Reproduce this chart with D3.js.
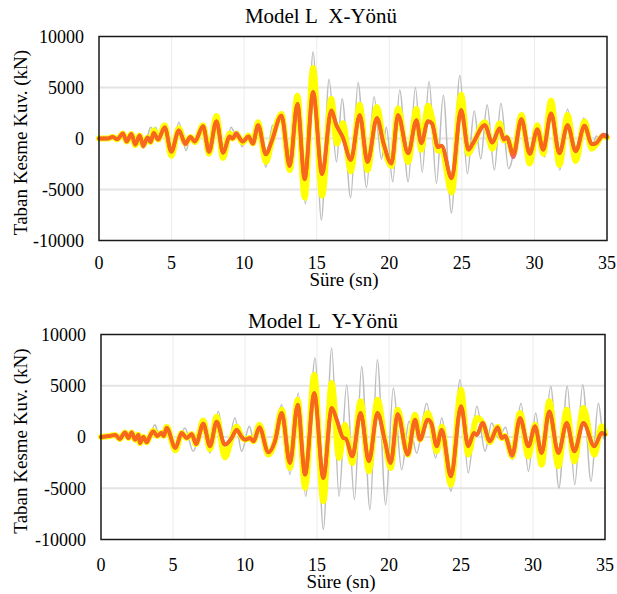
<!DOCTYPE html>
<html><head><meta charset="utf-8">
<script src="https://cdn.jsdelivr.net/npm/d3@7"></script>
<style>
body{margin:0;background:#fff}
svg{display:block}
</style>
</head><body>
<svg id="chart" width="617" height="594"></svg>
<script>
// ---------- data ----------
const xTicks = [0, 5, 10, 15, 20, 25, 30, 35];
const yTicks = [-10000, -5000, 0, 5000, 10000];
const titleX = "Model L\u00a0\u00a0X-Yönü";
const titleY = "Model L\u00a0\u00a0Y-Yönü";
const xAxisLabel = "Süre (sn)";
const yAxisLabel = "Taban Kesme Kuv. (kN)";

// X direction: [time (s), base shear (kN)]
const grayX = [[0,0],[0.6,0],[0.95,150],[1.25,-80],[1.65,500],[1.9,-300],[2.23,450],[2.5,-650],[2.8,300],[3.05,-700],[3.3,0],[3.56,1100],[3.75,700],[3.9,1100],[4.2,-300],[4.53,1000],[4.98,-1900],[5.5,1600],[6.0,-1200],[6.3,300],[6.6,-500],[7.17,1300],[7.58,-1400],[8.09,1900],[8.6,-2000],[9.1,1100],[9.35,600],[9.55,700],[9.85,-800],[10.3,200],[10.6,-400],[10.9,1500],[11.5,-2800],[11.95,1300],[12.15,1100],[12.57,2500],[13.14,-3100],[13.67,4100],[14.22,-6400],[14.75,8500],[15.32,-8000],[15.85,5800],[16.36,-2300],[16.75,3900],[17.34,-5800],[17.85,5500],[18.43,-4800],[18.95,4100],[19.46,-2000],[19.8,1100],[20.24,-4250],[20.72,4750],[21.3,-4250],[21.8,5000],[22.27,-3300],[22.74,5600],[23.25,-4400],[23.72,4250],[24.28,-7300],[24.86,6200],[25.38,-3450],[25.85,2700],[26.3,-2000],[26.74,3300],[27.24,-3100],[27.69,3450],[28.22,-2950],[29.12,2100],[29.69,-2100],[30.2,1500],[30.7,-1800],[31.17,3600],[31.75,-3100],[32.28,2900],[32.82,-2100],[33.4,2000],[33.92,-1150],[34.27,250],[34.5,-300],[34.73,300],[35,150]];
const yellowX = [[0,0],[0.6,0],[0.95,150],[1.25,-80],[1.65,500],[1.9,-300],[2.23,450],[2.5,-650],[2.8,300],[3.05,-700],[3.35,100],[3.55,-350],[3.77,800],[4.07,-100],[4.53,1300],[4.98,-1700],[5.5,1000],[5.95,-500],[6.3,150],[6.6,-350],[7.17,1300],[7.58,-1500],[8.09,2200],[8.55,-1900],[9.0,500],[9.2,0],[9.45,500],[9.9,-400],[10.3,300],[10.6,-500],[10.96,1600],[11.5,-2300],[11.9,-300],[12.57,2400],[13.14,-3100],[13.67,4200],[14.17,-5800],[14.75,6900],[15.37,-5600],[16.0,3900],[16.4,-500],[16.8,1500],[17.35,-3200],[17.96,3300],[18.5,-3100],[19.15,3100],[19.6,-500],[20.15,-2700],[20.6,2950],[21.3,-2300],[21.87,2900],[22.2,-1100],[22.67,3200],[22.95,2000],[23.35,-1200],[23.6,-1000],[24.3,-5300],[24.95,4300],[25.45,-1500],[25.75,-700],[26.58,1600],[27.1,-1000],[27.6,1500],[27.9,-200],[28.1,100],[28.55,-1600],[29.1,2300],[29.68,-2450],[30.2,1300],[30.6,-1500],[31.15,3700],[31.72,-2600],[32.28,2300],[32.85,-2200],[33.45,1700],[33.95,-1000],[34.2,-700],[34.75,300],[35,100]];
const pinkX = [[0,0],[0.6,0],[0.95,150],[1.25,-80],[1.65,500],[1.9,-300],[2.23,450],[2.5,-600],[2.8,300],[3.05,-800],[3.35,100],[3.55,-350],[3.77,550],[4.07,-100],[4.53,1100],[4.98,-1300],[5.5,800],[5.95,-600],[6.3,150],[6.6,-300],[7.17,1200],[7.58,-1300],[8.09,1700],[8.55,-1400],[9.0,200],[9.2,0],[9.45,550],[9.9,-300],[10.3,200],[10.6,-500],[10.96,1300],[11.5,-1550],[11.9,-250],[12.57,2250],[13.14,-2700],[13.67,3400],[14.17,-4000],[14.75,4550],[15.37,-3500],[16.0,2750],[16.36,1300],[16.8,100],[17.35,-2100],[17.96,2300],[18.5,-2300],[19.15,2000],[19.6,-450],[20.15,-2450],[20.6,2300],[21.3,-1450],[21.87,1800],[22.2,-450],[22.67,1700],[22.95,1450],[23.35,-850],[23.6,-700],[24.3,-3900],[24.95,2800],[25.45,-1100],[25.75,-500],[26.58,1300],[27.1,-400],[27.6,1000],[27.9,-100],[28.1,150],[28.55,-1850],[29.1,1900],[29.68,-1500],[30.2,900],[30.6,-1100],[31.15,2450],[31.72,-1450],[32.28,1300],[32.85,-1250],[33.45,1250],[33.95,-550],[34.2,-500],[34.75,400],[35,300]];
const orangeX = [[0,0],[0.6,0],[0.95,150],[1.25,-80],[1.65,500],[1.9,-300],[2.23,450],[2.5,-600],[2.8,300],[3.05,-650],[3.35,100],[3.55,-350],[3.77,550],[4.07,-100],[4.53,1100],[4.98,-1300],[5.5,800],[5.95,-450],[6.3,150],[6.6,-300],[7.17,1200],[7.58,-1300],[8.09,1700],[8.55,-1400],[9.0,200],[9.2,0],[9.45,400],[9.9,-300],[10.3,200],[10.6,-500],[10.96,1300],[11.5,-1550],[11.9,-250],[12.57,2250],[13.14,-2700],[13.67,3400],[14.17,-4000],[14.75,4550],[15.37,-3500],[16.0,2750],[16.36,1300],[16.8,100],[17.35,-2100],[17.96,2300],[18.5,-2300],[19.15,2000],[19.6,-450],[20.15,-2450],[20.6,2300],[21.3,-1450],[21.87,1800],[22.2,-450],[22.67,1700],[22.95,1450],[23.35,-850],[23.6,-700],[24.3,-3900],[24.95,2800],[25.45,-1100],[25.75,-500],[26.58,1300],[27.1,-400],[27.6,1000],[27.9,-100],[28.1,100],[28.55,-1500],[29.1,1900],[29.68,-1500],[30.2,900],[30.6,-1100],[31.15,2450],[31.72,-1450],[32.28,1300],[32.85,-1250],[33.45,1250],[33.95,-550],[34.2,-500],[34.75,250],[35,100]];

// Y direction
const grayY = [[0,0],[0.6,100],[1.0,200],[1.3,-200],[1.67,450],[1.9,-100],[2.13,450],[2.36,-260],[2.6,230],[2.7,-600],[2.95,0],[3.17,-600],[3.45,300],[3.75,1200],[3.95,500],[4.2,600],[4.56,800],[5.14,-1400],[5.83,880],[6.4,-1400],[7.1,1360],[7.57,-1560],[8.15,2500],[8.68,-2050],[9.3,1850],[9.77,-1400],[10.3,1040],[10.6,-300],[10.93,1040],[11.5,-1880],[12.0,-200],[12.55,3150],[13.12,-3670],[13.7,4290],[14.21,-5790],[14.86,7700],[15.44,-9000],[16.02,8680],[16.53,-5790],[17.06,5100],[17.6,-6110],[18.1,6890],[18.68,-7090],[19.19,7540],[19.77,-6600],[20.3,4780],[20.88,-3190],[21.39,1530],[21.92,-1560],[22.62,3300],[23.24,-2050],[23.66,1850],[24.3,-5300],[24.93,5590],[25.5,-3500],[26.1,2990],[26.67,-1400],[27.13,1370],[27.6,-100],[28.1,940],[28.56,-2210],[29.17,3300],[29.68,-3350],[30.19,2340],[30.65,-2700],[31.23,4940],[31.8,-4970],[32.38,4940],[32.9,-4650],[33.45,5100],[34.03,-4320],[34.54,3300],[34.9,-100],[35,-200]];
const yellowY = [[0,0],[0.6,100],[1.0,200],[1.3,-200],[1.67,450],[1.9,-100],[2.13,450],[2.36,-260],[2.6,230],[2.7,-600],[2.95,0],[3.17,-520],[3.4,100],[3.63,600],[3.9,100],[4.2,400],[4.35,100],[4.56,1000],[5.17,-1300],[5.6,400],[5.95,-100],[6.3,300],[6.6,-700],[7.1,1600],[7.57,-1200],[8.03,2000],[8.6,-2000],[9.07,-100],[9.42,1000],[9.77,0],[10.0,-260],[10.35,-100],[10.6,-420],[11.0,1200],[11.62,-1700],[12.08,-420],[12.55,2670],[13.12,-3020],[13.66,3640],[14.17,-4970],[14.81,6080],[15.44,-6270],[16.02,5270],[16.53,-2050],[16.94,1200],[17.45,-2540],[18.03,3480],[18.6,-3350],[19.2,3640],[19.72,-420],[20.12,-3020],[20.6,2670],[21.3,-1720],[21.81,2180],[22.15,-260],[22.69,2340],[22.95,1300],[23.31,-1400],[23.66,1000],[24.3,-4650],[25.0,4600],[25.5,-1700],[26.1,1850],[26.5,1400],[27.0,-500],[27.55,1000],[27.83,-100],[28.05,100],[28.56,-1900],[29.1,2340],[29.68,-1900],[30.14,1200],[30.6,-2700],[31.13,3480],[31.76,-2860],[32.34,2670],[32.87,-2370],[33.5,2830],[34.26,-1720],[34.77,1040],[35,300]];
const pinkY = [[0,0],[0.6,100],[1.0,200],[1.3,-200],[1.67,450],[1.9,-100],[2.13,450],[2.36,-260],[2.6,230],[2.7,-600],[2.95,0],[3.17,-520],[3.4,100],[3.63,550],[3.9,100],[4.2,390],[4.35,100],[4.56,880],[5.17,-1070],[5.6,390],[5.95,-100],[6.3,290],[6.6,-700],[7.1,1300],[7.57,-900],[8.03,1500],[8.6,-750],[9.07,-100],[9.42,700],[9.77,0],[10.0,-260],[10.35,-100],[10.6,-420],[11.0,940],[11.62,-1500],[12.08,-420],[12.55,2340],[13.12,-2540],[13.66,3150],[14.17,-3670],[14.81,4290],[15.44,-4000],[16.02,2830],[16.37,1690],[16.83,-100],[17.0,-150],[17.45,-1890],[18.03,2340],[18.6,-2370],[19.2,2340],[19.72,-420],[20.12,-2540],[20.6,2240],[21.3,-1720],[21.81,1690],[22.15,-260],[22.69,1690],[22.95,1300],[23.31,-910],[23.66,700],[24.3,-3840],[25.0,3000],[25.5,-900],[25.9,400],[26.1,200],[26.5,1370],[27.0,-420],[27.55,940],[27.83,-100],[28.05,100],[28.56,-1850],[29.1,1850],[29.68,-910],[30.14,1040],[30.6,-1560],[31.13,2500],[31.76,-1560],[32.34,1370],[32.87,-1400],[33.5,1370],[34.26,-910],[34.77,390],[35,230]];
const orangeY = [[0,0],[0.6,100],[1.0,200],[1.3,-200],[1.67,450],[1.9,-100],[2.13,450],[2.36,-260],[2.6,230],[2.7,-600],[2.95,0],[3.17,-520],[3.4,100],[3.63,550],[3.9,100],[4.2,390],[4.35,100],[4.56,880],[5.17,-1070],[5.6,390],[5.95,-100],[6.3,290],[6.6,-680],[7.1,1300],[7.57,-900],[8.03,1500],[8.6,-750],[9.07,-100],[9.42,700],[9.77,0],[10.0,-260],[10.35,-100],[10.6,-420],[11.0,940],[11.62,-1500],[12.08,-420],[12.55,2340],[13.12,-2540],[13.66,3150],[14.17,-3670],[14.81,4290],[15.44,-4000],[16.02,2830],[16.37,1690],[16.83,-100],[17.0,-150],[17.45,-1890],[18.03,2340],[18.6,-2370],[19.2,2340],[19.72,-420],[20.12,-2540],[20.6,2240],[21.3,-1720],[21.81,1690],[22.15,-260],[22.69,1690],[22.95,1300],[23.31,-910],[23.66,700],[24.3,-3840],[25.0,3000],[25.5,-900],[25.9,400],[26.1,200],[26.5,1370],[27.0,-420],[27.55,940],[27.83,-100],[28.05,100],[28.56,-1720],[29.1,1850],[29.68,-910],[30.14,1040],[30.6,-1560],[31.13,2500],[31.76,-1560],[32.34,1370],[32.87,-1400],[33.5,1370],[34.26,-910],[34.77,390],[35,230]];

// ---------- layout ----------
const FONT = "Liberation Serif";
const panels = [
  {title: titleX, gray: grayX, yellow: yellowX, pink: pinkX, orange: orangeX,
   left: 99, right: 607, top: 36.5, bottom: 240.5, titleBase: 23, yLabRight: 84, xLabBase: 269, xTitleBase: 286, xTitleX: 344, yTitleX: 27, titleCX: 321},
  {title: titleY, gray: grayY, yellow: yellowY, pink: pinkY, orange: orangeY,
   left: 101, right: 605, top: 334.5, bottom: 539.5, titleBase: 328, yLabRight: 86, xLabBase: 571, xTitleBase: 588, xTitleX: 341, yTitleX: 27, titleCX: 323}
];

const svg = d3.select("#chart");
svg.append("rect").attr("width", 617).attr("height", 594).attr("fill", "#fff");

panels.forEach(p => {
  const x = d3.scaleLinear().domain([0, 35]).range([p.left, p.right]);
  const y = d3.scaleLinear().domain([-10000, 10000]).range([p.bottom, p.top]);
  const g = svg.append("g");

  // grid
  g.selectAll(".vg").data(xTicks.filter(d => d > 0 && d < 35)).enter().append("line")
    .attr("x1", d => x(d)).attr("x2", d => x(d)).attr("y1", p.top).attr("y2", p.bottom)
    .attr("stroke", "#ececec").attr("stroke-width", 1);
  g.selectAll(".hg").data(yTicks.filter(d => d > -10000 && d < 10000)).enter().append("line")
    .attr("x1", p.left).attr("x2", p.right).attr("y1", d => y(d)).attr("y2", d => y(d))
    .attr("stroke", "#e4e4e4").attr("stroke-width", 2);

  const line = d3.line().x(d => x(d[0])).y(d => y(d[1])).curve(d3.curveMonotoneX);
  const series = [
    {data: p.gray, color: "#bdbdbd", w: 1.5},
    {data: p.yellow, color: "#ffff00", w: 6},
    {data: p.pink, color: "#ef6470", w: 3.5},
    {data: p.orange, color: "#f7671c", w: 3.8}
  ];
  series.forEach(s => {
    g.append("path").datum(s.data).attr("d", line).attr("fill", "none")
      .attr("stroke", s.color).attr("stroke-width", s.w)
      .attr("stroke-linejoin", "round").attr("stroke-linecap", "round");
  });

  // frame
  g.append("rect").attr("x", p.left).attr("y", p.top)
    .attr("width", p.right - p.left).attr("height", p.bottom - p.top)
    .attr("fill", "none").attr("stroke", "#1a1a1a").attr("stroke-width", 1.5);

  // y tick labels
  g.selectAll(".yl").data(yTicks).enter().append("text")
    .attr("x", p.yLabRight).attr("y", d => y(d)).attr("dy", "0.35em")
    .attr("text-anchor", "end").style("font-family", FONT).style("font-size", "18px").text(d => String(d));
  // x tick labels
  g.selectAll(".xl").data(xTicks).enter().append("text")
    .attr("x", d => x(d)).attr("y", p.xLabBase)
    .attr("text-anchor", "middle").style("font-family", FONT).style("font-size", "18px").text(d => String(d));

  // titles
  g.append("text").attr("x", p.titleCX).attr("y", p.titleBase).attr("text-anchor", "middle")
    .style("font-family", FONT).style("font-size", "21px").text(p.title);
  g.append("text").attr("x", p.xTitleX).attr("y", p.xTitleBase).attr("text-anchor", "middle")
    .style("font-family", FONT).style("font-size", "19px").text(xAxisLabel);
  const cy = (p.top + p.bottom) / 2 + 4;
  g.append("text").attr("transform", `translate(${p.yTitleX},${cy}) rotate(-90)`)
    .attr("text-anchor", "middle").style("font-family", FONT).style("font-size", "19px").text(yAxisLabel);
});
</script>
</body></html>
